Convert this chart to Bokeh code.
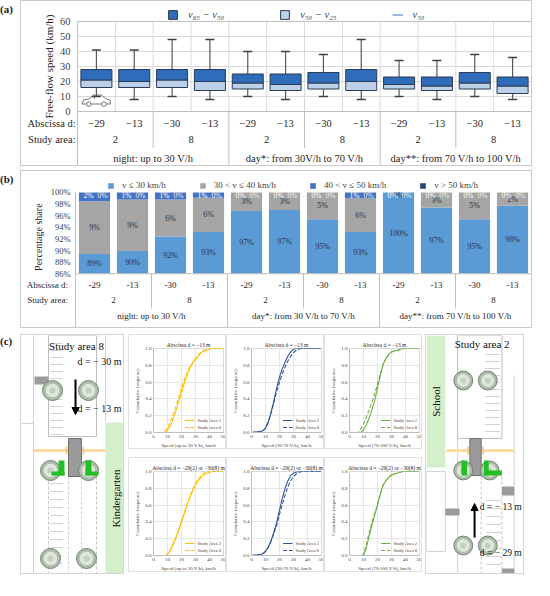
import math
from bokeh.plotting import figure
from bokeh.models import (Range1d, FixedTicker, PrintfTickFormatter, Legend, LegendItem,
                          Div, Spacer, Arrow, NormalHead)
from bokeh.layouts import column, row
from bokeh.core.properties import value
from bokeh.embed import file_html
from bokeh.resources import INLINE

SERIF = "Liberation Serif, DejaVu Serif, serif"

# ===================== DATA =====================
abscissa_a = ["−29", "−13", "−30", "−13", "−29", "−13", "−30", "−13", "−29", "−13", "−30", "−13"]
abscissa_b = ["-29", "-13", "-30", "-13", "-29", "-13", "-30", "-13", "-29", "-13", "-30", "-13"]
study_areas = ["2", "8", "2", "8", "2", "8"]
groups_a = ["night: up to 30 V/h", "day*: from 30V/h to 70 V/h", "day**: from 70 V/h to 100 V/h"]
groups_b = ["night: up to 30 V/h", "day*: from 30 V/h to 70 V/h", "day**: from 70 V/h to 100 V/h"]
speed_ticks = [0, 10, 20, 30, 40, 50, 60]
share_ticks = [86, 88, 90, 92, 94, 96, 98, 100]

# (a) free-flow speed (km/h)
whisker_high = [41, 41, 48, 48, 40, 40, 38, 48, 34, 34, 38, 36]
v85 = [28, 28, 28, 28, 25, 25, 26, 28, 23, 23, 26, 23]
v50 = [21, 20, 21, 20, 19, 18, 19, 20, 18, 17, 19, 17]
v25 = [16, 16, 16, 14, 15, 14, 15, 14, 15, 14, 15, 12]
whisker_low = [10, 8, 10, 8, 10, 8, 10, 8, 10, 8, 10, 8]

# (b) percentage share
share_le30 = [89.4, 89.9, 92.4, 93.2, 96.8, 97.0, 95.4, 93.2, 100.0, 97.4, 95.4, 97.7]
share_30_40 = [9.1, 8.9, 6.4, 5.9, 3.2, 3.0, 4.6, 5.8, 0.0, 2.6, 4.6, 2.3]
share_40_50 = [1.5, 1.2, 1.2, 0.9, 0.0, 0.0, 0.0, 1.0, 0.0, 0.0, 0.0, 0.0]
share_gt50 = [0.0, 0.0, 0.0, 0.0, 0.0, 0.0, 0.0, 0.0, 0.0, 0.0, 0.0, 0.0]
share_labels = ["v ≤ 30 km/h", "30 < v ≤ 40 km/h", "40 < v ≤ 50 km/h", "v > 50 km/h"]

# (c) cumulative frequency curves
speed_night_13 = [0, 8, 9, 11, 13, 15, 17, 19, 21, 23, 25, 27, 29, 31, 33, 35, 38, 41, 45, 50]
night_13_area2 = [0, 0, 0.01, 0.05, 0.12, 0.21, 0.31, 0.42, 0.53, 0.64, 0.73, 0.80, 0.85, 0.89, 0.93, 0.96, 0.98, 1.0, 1.0, 1.0]
night_13_area8 = [0, 0, 0.03, 0.09, 0.17, 0.26, 0.36, 0.47, 0.58, 0.67, 0.75, 0.81, 0.86, 0.90, 0.94, 0.97, 0.99, 1.0, 1.0, 1.0]

speed_day1_13 = [0, 3, 6, 8, 10, 12, 14, 16, 18, 20, 22, 24, 26, 28, 30, 32, 34, 36, 40, 50]
day1_13_area2 = [0, 0.005, 0.01, 0.02, 0.05, 0.13, 0.24, 0.38, 0.53, 0.66, 0.76, 0.84, 0.91, 0.96, 0.99, 1.0, 1.0, 1.0, 1.0, 1.0]
day1_13_area8 = [0, 0.005, 0.01, 0.02, 0.05, 0.12, 0.23, 0.36, 0.49, 0.60, 0.70, 0.78, 0.85, 0.91, 0.95, 0.98, 0.995, 1.0, 1.0, 1.0]

speed_day2_13 = [0, 6, 8, 10, 12, 14, 16, 18, 20, 22, 24, 26, 28, 30, 32, 34, 36, 38, 40, 50]
day2_13_area2 = [0, 0, 0, 0.03, 0.09, 0.17, 0.27, 0.38, 0.53, 0.68, 0.81, 0.88, 0.93, 0.96, 0.97, 0.98, 0.99, 1.0, 1.0, 1.0]
day2_13_area8 = [0, 0, 0.04, 0.10, 0.18, 0.27, 0.36, 0.46, 0.58, 0.70, 0.81, 0.88, 0.93, 0.96, 0.97, 0.975, 0.985, 0.995, 1.0, 1.0]

speed_night_30 = [0, 9, 10, 12, 14, 16, 18, 20, 22, 24, 26, 28, 30, 32, 34, 36, 38, 40, 42, 50]
night_30_area2 = [0, 0, 0.01, 0.06, 0.13, 0.21, 0.30, 0.40, 0.50, 0.60, 0.69, 0.77, 0.84, 0.89, 0.93, 0.96, 0.98, 0.99, 1.0, 1.0]
night_30_area8 = [0, 0, 0.02, 0.07, 0.14, 0.22, 0.31, 0.41, 0.51, 0.61, 0.70, 0.79, 0.86, 0.91, 0.95, 0.98, 0.99, 1.0, 1.0, 1.0]

speed_day1_30 = [0, 3, 6, 8, 10, 12, 14, 16, 18, 20, 22, 24, 26, 28, 30, 32, 34, 36, 40, 50]
day1_30_area2 = [0, 0.005, 0.01, 0.02, 0.05, 0.10, 0.18, 0.28, 0.39, 0.54, 0.68, 0.80, 0.89, 0.95, 0.98, 0.995, 1.0, 1.0, 1.0, 1.0]
day1_30_area8 = [0, 0.005, 0.01, 0.02, 0.05, 0.10, 0.17, 0.26, 0.36, 0.49, 0.61, 0.72, 0.82, 0.89, 0.94, 0.97, 0.99, 1.0, 1.0, 1.0]

speed_day2_30 = [0, 8, 10, 12, 14, 16, 18, 20, 22, 24, 26, 28, 30, 32, 34, 36, 38, 40, 45, 50]
day2_30_area2 = [0, 0, 0, 0.09, 0.23, 0.36, 0.48, 0.60, 0.73, 0.84, 0.89, 0.93, 0.96, 0.97, 0.98, 0.99, 1.0, 1.0, 1.0, 1.0]
day2_30_area8 = [0, 0, 0.01, 0.13, 0.27, 0.39, 0.50, 0.61, 0.73, 0.83, 0.89, 0.93, 0.96, 0.97, 0.98, 0.99, 1.0, 1.0, 1.0, 1.0]

title_13 = "Abscissa d = −13 m"
title_30 = "Abscissa d = −29(2) or −30(8) m"
xlabel_night = "Speed (up to 30 V/h), km/h"
xlabel_day1 = "Speed (30-70 V/h), km/h"
xlabel_day2 = "Speed (70-100 V/h), km/h"

# ===================== STYLE =====================
GRID = "#D9D9D9"
TAB = "#BFBFBF"
TXT = "#262626"
BOX_BORDER = {"border": "1px solid #c9c9c9"}
ncol = len(abscissa_a)
xs = [i + 0.5 for i in range(ncol)]
pair_x = [2 * i + 1 for i in range(len(study_areas))]
group_x = [4 * i + 2 for i in range(len(groups_a))]


def serif_text(p, x, y, text, size="10px", color=TXT, **kw):
    p.text(x=x, y=y, text=text, text_font=value(SERIF), text_font_size=size,
           text_color=color, text_align=kw.pop("align", "center"),
           text_baseline=kw.pop("baseline", "middle"), **kw)


def style_fixed_yaxis(p, ticks, size, standoff):
    ax = p.yaxis[0]
    ax.fixed_location = 0
    ax.ticker = FixedTicker(ticks=ticks)
    ax.axis_line_color = None
    ax.major_tick_line_color = None
    ax.minor_tick_line_color = None
    ax.major_tick_out = 0
    ax.major_tick_in = 0
    ax.major_label_standoff = standoff
    ax.major_label_text_font = SERIF
    ax.major_label_text_font_size = size
    ax.major_label_text_color = "#404040"
    return ax


# ===================== PANEL (a) =====================
col_a = 454 / ncol
ya_bot = -37.33
pa = figure(width=512, height=166,
            x_range=Range1d(-56 / col_a, ncol + 2 / col_a), y_range=Range1d(ya_bot, 73.33),
            output_backend="svg", toolbar_location=None, x_axis_location=None,
            min_border_left=0, min_border_right=0, min_border_top=0, min_border_bottom=0,
            outline_line_color=None, styles=BOX_BORDER)
pa.grid.visible = False
style_fixed_yaxis(pa, speed_ticks, "10.5px", 7)

pa.segment(x0=0, y0=speed_ticks[1:-1], x1=ncol, y1=speed_ticks[1:-1], line_color=GRID)
pa.segment(x0=list(range(1, ncol)), y0=0, x1=list(range(1, ncol)), y1=60, line_color=GRID)
pa.quad(left=[0], right=[ncol], bottom=[0], top=[60], fill_color=None, line_color=TAB)

# small car pictogram in the lower-left corner of the plot
pa.patch(x=[0.12, 0.16, 0.30, 0.42, 0.62, 0.76, 0.86, 0.87, 0.12],
         y=[5.0, 7.8, 8.3, 11.0, 11.0, 8.3, 7.6, 5.0, 5.0],
         fill_color="white", line_color="#555555", line_width=0.8)
pa.segment(x0=[0.45], y0=[8.3], x1=[0.45], y1=[11.0], line_color="#555555", line_width=0.7)
pa.circle(x=[0.30, 0.70], y=[4.9, 4.9], radius=0.06, fill_color="white", line_color="#555555",
          line_width=0.8)

cap_l = [x - 0.12 for x in xs]
cap_r = [x + 0.12 for x in xs]
pa.segment(x0=xs, y0=v85, x1=xs, y1=whisker_high, line_color="#595959", line_width=1.2)
pa.segment(x0=xs, y0=whisker_low, x1=xs, y1=v25, line_color="#595959", line_width=1.2)
pa.segment(x0=cap_l, y0=whisker_high, x1=cap_r, y1=whisker_high, line_color="#404040", line_width=1.5)
pa.segment(x0=cap_l, y0=whisker_low, x1=cap_r, y1=whisker_low, line_color="#404040", line_width=1.5)
med_l = [x - 0.41 for x in xs]
med_r = [x + 0.41 for x in xs]
r_med = pa.segment(x0=med_l, y0=v50, x1=med_r, y1=v50, line_color="#9DB5D6", line_width=2)
r_lo = pa.vbar(x=xs, width=0.82, bottom=v25, top=v50, fill_color="#BDD0EA", line_color="#2B3B52", line_width=1)
r_hi = pa.vbar(x=xs, width=0.82, bottom=v50, top=v85, fill_color="#2F6DBA", line_color="#2B3B52", line_width=1)

leg_a = Legend(items=[LegendItem(label="v₈₅ − v₅₀", renderers=[r_hi]),
                      LegendItem(label="v₅₀ − v₂₅", renderers=[r_lo]),
                      LegendItem(label="v₅₀", renderers=[r_med])],
               location=(146, 146), orientation="horizontal", spacing=55, label_standoff=10,
               glyph_width=11, glyph_height=11, label_height=13, padding=2, margin=0,
               border_line_color=None, background_fill_alpha=0,
               label_text_font=SERIF, label_text_font_style="italic", label_text_font_size="10.5px")
pa.add_layout(leg_a)

# category table (a)
pa.segment(x0=[0], y0=[60], x1=[0], y1=[ya_bot], line_color=TAB)
pa.segment(x0=[ncol], y0=[0], x1=[ncol], y1=[ya_bot], line_color=TAB)
pa.segment(x0=[2, 6, 10], y0=0, x1=[2, 6, 10], y1=-24.5, line_color=TAB)
pa.segment(x0=[4, 8], y0=0, x1=[4, 8], y1=ya_bot, line_color=TAB)
serif_text(pa, xs, [-8] * ncol, abscissa_a, size="10.5px")
serif_text(pa, pair_x, [-18.67] * len(pair_x), study_areas, size="10.5px")
serif_text(pa, group_x, [-31.33] * len(group_x), groups_a, size="10.5px")
serif_text(pa, [-0.05, -0.05], [-8, -18.67], ["Abscissa d:", "Study area:"], size="10.5px", align="right")
serif_text(pa, [-0.76], [30], ["Free-flow speed (km/h)"], size="11px", angle=math.pi / 2)

# ===================== PANEL (b) =====================
col_b = 456 / ncol
yb_bot = 76.38
pb = figure(width=512, height=158,
            x_range=Range1d(-54 / col_b, ncol + 2 / col_b), y_range=Range1d(yb_bot, 103.62),
            output_backend="svg", toolbar_location=None, x_axis_location=None,
            min_border_left=0, min_border_right=0, min_border_top=0, min_border_bottom=0,
            outline_line_color=None, styles=BOX_BORDER)
pb.grid.visible = False
axb = style_fixed_yaxis(pb, share_ticks, "8.5px", 5)
axb.formatter = PrintfTickFormatter(format="%d%%")

c1 = share_le30
c2 = [a + b for a, b in zip(c1, share_30_40)]
c3 = [a + b for a, b in zip(c2, share_40_50)]
c4 = [a + b for a, b in zip(c3, share_gt50)]
axis_min = share_ticks[0]
colors_b = ["#5B9BD5", "#A5A5A5", "#4472C4", "#264478"]
rb1 = pb.vbar(x=xs, width=0.82, bottom=axis_min, top=c1, fill_color=colors_b[0], line_color=None)
rb2 = pb.vbar(x=xs, width=0.82, bottom=c1, top=c2, fill_color=colors_b[1], line_color=None)
rb3 = pb.vbar(x=xs, width=0.82, bottom=c2, top=c3, fill_color=colors_b[2], line_color=None)
rb4 = pb.vbar(x=xs, width=0.82, bottom=c3, top=c4, fill_color=colors_b[3], line_color=None)

lab1 = [f"{v:.0f}%" for v in share_le30]
lab2 = [f"{v:.0f}%" for v in share_30_40]
lab3 = [f"{v:.0f}%" for v in share_40_50]
lab4 = [f"{v:.0f}%" for v in share_gt50]
serif_text(pb, xs, [(axis_min + t) / 2 for t in c1], lab1, size="8px", color="#333333")
serif_text(pb, xs, [min((a + b) / 2, 99.4) for a, b in zip(c1, c2)], lab2, size="8px", color="#333333")
serif_text(pb, xs, [99.4] * ncol, lab3, size="7.5px", color="#ffffff", x_offset=-6)
serif_text(pb, xs, [99.4] * ncol, lab4, size="7.5px", color="#eeeeee", x_offset=8)

leg_b = Legend(items=[LegendItem(label=share_labels[0], renderers=[rb1]),
                      LegendItem(label=share_labels[1], renderers=[rb2]),
                      LegendItem(label=share_labels[2], renderers=[rb3]),
                      LegendItem(label=share_labels[3], renderers=[rb4])],
               location=(86, 138), orientation="horizontal", spacing=33, label_standoff=8,
               glyph_width=7, glyph_height=7, label_height=12, padding=2, margin=0,
               border_line_color=None, background_fill_alpha=0,
               label_text_font=SERIF, label_text_font_size="9px")
pb.add_layout(leg_b)

pb.segment(x0=[0], y0=[100], x1=[0], y1=[yb_bot], line_color=TAB)
pb.segment(x0=[0], y0=[86], x1=[ncol], y1=[86], line_color=TAB)
pb.segment(x0=[2, 6, 10], y0=86, x1=[2, 6, 10], y1=80.0, line_color=TAB)
pb.segment(x0=[4, 8, 12], y0=86, x1=[4, 8, 12], y1=yb_bot, line_color=TAB)
serif_text(pb, xs, [83.97] * ncol, abscissa_b, size="9px")
serif_text(pb, pair_x, [81.38] * len(pair_x), study_areas, size="9px")
serif_text(pb, group_x, [78.79] * len(group_x), groups_b, size="9px")
serif_text(pb, [-0.2, -0.2], [83.97, 81.38], ["Abscissa d:", "Study area:"], size="9px", align="right")
serif_text(pb, [-0.97], [92.3], ["Percentage share"], size="10px", angle=math.pi / 2)


# ===================== PANEL (c) CDF plots =====================
def cdf_fig(title, xlabel, speed, cf2, cf8, color):
    p = figure(width=98, height=115, x_range=Range1d(0, 50), y_range=Range1d(0, 1),
               title=title, output_backend="svg", toolbar_location=None,
               min_border_left=24, min_border_right=4, min_border_top=13, min_border_bottom=18,
               outline_line_color=GRID, styles={"border": "1px solid #e0e0e0"})
    p.title.text_font = SERIF
    p.title.text_font_size = "5.5px"
    p.title.text_font_style = "normal"
    p.title.text_color = "#262626"
    p.title.align = "center"
    p.title.standoff = 2
    p.title.offset = 4
    p.xaxis.ticker = FixedTicker(ticks=[0, 10, 20, 30, 40, 50])
    p.yaxis.ticker = FixedTicker(ticks=[0, 0.2, 0.4, 0.6, 0.8, 1.0])
    p.yaxis.formatter = PrintfTickFormatter(format="%.1f")
    for ax in (p.xaxis[0], p.yaxis[0]):
        ax.major_label_text_font = SERIF
        ax.major_label_text_font_size = "5px"
        ax.major_label_text_color = "#404040"
        ax.axis_label_text_font = SERIF
        ax.axis_label_text_font_size = "5px"
        ax.axis_label_text_font_style = "normal"
        ax.axis_label_text_color = "#404040"
        ax.axis_line_color = TAB
        ax.major_tick_line_color = None
        ax.minor_tick_line_color = None
        ax.major_tick_out = 0
        ax.major_label_standoff = 2
        ax.axis_label_standoff = 2
    p.xaxis.axis_label = xlabel
    p.yaxis.axis_label = "Cumulative frequency"
    p.grid.grid_line_color = "#E6E6E6"
    r2 = p.line(speed, cf2, line_color=color, line_width=1.1)
    r8 = p.line(speed, cf8, line_color=color, line_width=1.1, line_dash="4 2")
    leg = Legend(items=[LegendItem(label="Study Area 2", renderers=[r2]),
                        LegendItem(label="Study Area 8", renderers=[r8])],
                 location="bottom_right", glyph_width=10, glyph_height=6, label_height=6,
                 label_standoff=3, spacing=1, padding=1, margin=2,
                 border_line_color=None, background_fill_alpha=0,
                 label_text_font=SERIF, label_text_font_size="4.5px")
    p.add_layout(leg)
    return p


YEL, BLU, GRN = "#FFC000", "#2F5597", "#70AD47"
cdf1 = cdf_fig(title_13, xlabel_night, speed_night_13, night_13_area2, night_13_area8, YEL)
cdf2 = cdf_fig(title_13, xlabel_day1, speed_day1_13, day1_13_area2, day1_13_area8, BLU)
cdf3 = cdf_fig(title_13, xlabel_day2, speed_day2_13, day2_13_area2, day2_13_area8, GRN)
cdf4 = cdf_fig(title_30, xlabel_night, speed_night_30, night_30_area2, night_30_area8, YEL)
cdf5 = cdf_fig(title_30, xlabel_day1, speed_day1_30, day1_30_area2, day1_30_area8, BLU)
cdf6 = cdf_fig(title_30, xlabel_day2, speed_day2_30, day2_30_area2, day2_30_area8, GRN)


# ===================== PANEL (c) site sketches =====================
FAINT = "#d2d2d2"
GREENZONE = "#d4efca"


def map_fig(w, xmax):
    p = figure(width=w, height=240, x_range=Range1d(0, xmax), y_range=Range1d(240, 0),
               output_backend="svg", toolbar_location=None, x_axis_location=None,
               y_axis_location=None, min_border=0, outline_line_color=None,
               styles={"border": "1px solid #d6d6d6"})
    p.grid.visible = False
    return p


def trees(p, tx, ty, r=10):
    p.circle(x=tx, y=ty, radius=r, fill_color="#aebdac", line_color="#6f836f", line_width=1)
    p.circle(x=tx, y=ty, radius=r * 0.68, fill_color="#dfe7dc", line_color=None)
    p.circle(x=tx, y=ty, radius=r * 0.3, fill_color="#c3cebf", line_color=None)


def stripes(p, x0, x1, ys):
    p.segment(x0=x0, y0=ys, x1=x1, y1=ys, line_color=FAINT, line_width=1)


def stext(p, x, y, t, size="10.5px", align="center", angle=0.0):
    p.text(x=[x], y=[y], text=[t], text_font=value(SERIF), text_font_size=size, text_color="#111111",
           text_align=align, text_baseline="middle", angle=angle)


# ---- Study area 8 ----
m8 = map_fig(104, 104)
m8.segment(x0=[12, 0, 84], y0=[0, 88, 0], x1=[12, 12, 84], y1=[240, 88, 86], line_color=FAINT)
m8.quad(left=[27], right=[75], top=[0], bottom=[101], fill_color="white", line_color="#bdbdbd")
stripes(m8, 29, 41, list(range(8, 100, 7)))
m8.segment(x0=[27, 75, 47, 60], y0=[141, 141, 141, 141], x1=[27, 75, 47, 60], y1=[240, 240, 240, 240],
           line_color=["#c4c4c4", "#c4c4c4", FAINT, FAINT], line_dash="3 2")
stripes(m8, 29, 41, list(range(148, 236, 8)))
m8.quad(left=[13], right=[27], top=[41], bottom=[49], fill_color="#9b9b9b", line_color=None)
m8.segment(x0=[12, 60], y0=[115, 115], x1=[47, 84], y1=[115, 115], line_color="#FBDCA0", line_width=3)
m8.segment(x0=[45, 62], y0=[111, 111], x1=[45, 62], y1=[119, 119], line_color="#F2C877", line_width=1.5)
m8.quad(left=[47], right=[60], top=[103], bottom=[141], fill_color="#9b9b9b", line_color="#6e6e6e")
trees(m8, [31, 67, 29, 67, 29, 65], [55, 55, 135, 135, 223, 223])
m8.quad(left=[37, 30, 64, 64], right=[43, 43, 70, 77], top=[125, 136, 125, 136],
        bottom=[140, 140, 140, 140], fill_color="#22c022", line_color=None)
m8.quad(left=[84], right=[104], top=[87], bottom=[240], fill_color=GREENZONE, line_color=None)
stext(m8, 94, 163, "Kindergarten", size="11px", angle=math.pi / 2)
stext(m8, 55, 10, "Study area 8", size="11px")
stext(m8, 100, 26, "d = − 30 m", size="10px", align="right")
stext(m8, 100, 73, "d = − 13 m", size="10px", align="right")
m8.add_layout(Arrow(x_start=54, y_start=44, x_end=54, y_end=79, line_width=2, line_color="black",
                    end=NormalHead(size=7, fill_color="black", line_color="black")))

# ---- Study area 2 ----
m2 = map_fig(99, 105)
m2.quad(left=[0], right=[20], top=[0], bottom=[132], fill_color=GREENZONE, line_color=None)
m2.quad(left=[0], right=[20], top=[136], bottom=[216], fill_color=None, line_color=FAINT)
m2.segment(x0=[33, 93, 103], y0=[0, 40, 0], x1=[33, 93, 103], y1=[240, 240, 240], line_color=FAINT)
m2.quad(left=[33], right=[80], top=[0], bottom=[103], fill_color="white", line_color="#bdbdbd")
stripes(m2, 62, 78, list(range(12, 98, 7)))
m2.segment(x0=[80, 58], y0=[141, 141], x1=[80, 58], y1=[240, 240], line_color="#c4c4c4", line_dash="3 2")
stripes(m2, 63, 79, list(range(165, 232, 8)))
m2.segment(x0=[21, 58], y0=[115, 115], x1=[46, 93], y1=[115, 115], line_color="#FBDCA0", line_width=3)
m2.segment(x0=[44, 60], y0=[111, 111], x1=[44, 60], y1=[119, 119], line_color="#F2C877", line_width=1.5)
m2.quad(left=[46], right=[58], top=[103], bottom=[140], fill_color="#9b9b9b", line_color="#6e6e6e")
m2.quad(left=[80, 20, 80], right=[93, 35, 93], top=[151, 173, 233], bottom=[160, 180, 240],
        fill_color="#9b9b9b", line_color=None)
trees(m2, [39, 65, 39, 67, 39, 65], [45, 45, 135, 135, 210, 210])
m2.quad(left=[37, 61, 61], right=[43, 66, 80], top=[125, 125, 135], bottom=[140, 140, 140],
        fill_color="#22c022", line_color=None)
stext(m2, 10, 66, "School", size="11px", angle=math.pi / 2)
stext(m2, 59, 8, "Study area 2", size="11px")
stext(m2, 101, 171, "d = − 13 m", size="9.5px", align="right")
stext(m2, 101, 217, "d = − 29 m", size="9.5px", align="right")
m2.add_layout(Arrow(x_start=51, y_start=202, x_end=51, y_end=168, line_width=2, line_color="black",
                    end=NormalHead(size=7, fill_color="black", line_color="black")))

# ===================== LAYOUT =====================
LBL = {"font-family": SERIF, "font-size": "11px", "font-weight": "bold", "color": "#222222"}


def panel_label(t, pad):
    st = dict(LBL)
    st["padding-top"] = pad
    return Div(text=t, width=20, margin=(0, 0, 0, 0), styles=st)


cdf_grid = column(row(cdf1, cdf2, cdf3), Spacer(height=8), row(cdf4, cdf5, cdf6))
layout = column(
    row(panel_label("(a)", "2px"), pa),
    Spacer(height=4),
    row(panel_label("(b)", "2px"), pb),
    Spacer(height=6),
    row(panel_label("(c)", "0px"), m8, Spacer(width=4), cdf_grid, Spacer(width=3), m2),
)

open("out.html", "w").write(file_html(layout, INLINE))
